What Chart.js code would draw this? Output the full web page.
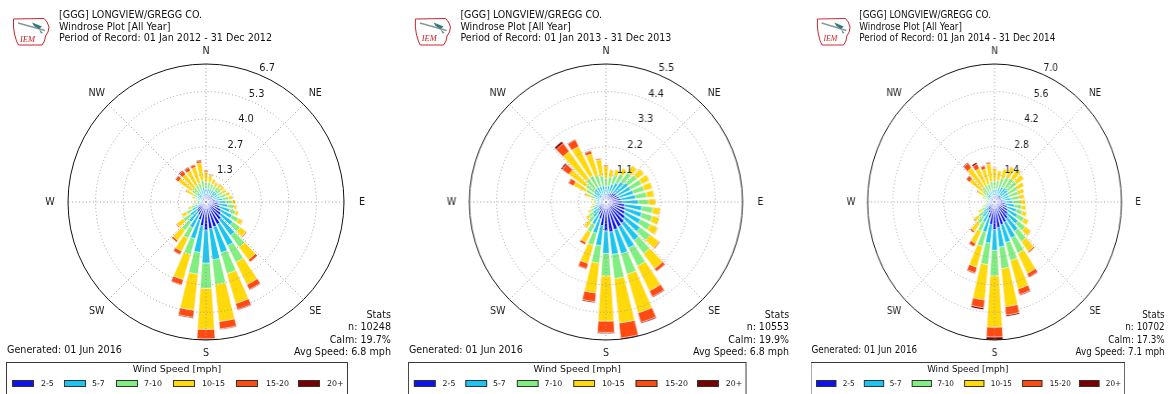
<!DOCTYPE html>
<html>
<head>
<meta charset="utf-8">
<script src="https://cdn.jsdelivr.net/npm/chart.js@4/dist/chart.umd.min.js"></script>
<style>
  html, body { margin: 0; padding: 0; background: #fff; }
  body { width: 1169px; height: 394px; overflow: hidden; position: relative;
         font-family: "DejaVu Sans", sans-serif; color: #111; }
  .panel { position: absolute; top: 0; width: 396px; height: 394px; transform-origin: 0 0; }
  .panel canvas { position: absolute; left: 0; top: 0; }
  .logo { position: absolute; left: 12px; top: 17px; }
  .hdr { position: absolute; left: 59px; top: 9.3px; font-size: 9.6px; line-height: 11.5px; white-space: nowrap; }
  .stats { position: absolute; right: 5px; top: 308.8px; font-size: 9.6px; line-height: 12.5px; text-align: right; white-space: nowrap; }
  .gen { position: absolute; left: 7px; top: 342.5px; font-size: 9.6px; line-height: 13px; white-space: nowrap; }
  .legend { position: absolute; left: 6px; top: 362px; width: 342px; height: 40px; border: 1px solid #3a3a3a; box-sizing: border-box; }
  .legend .ttl { position: absolute; left: 0; right: 0; top: 0; text-align: center; font-size: 9.5px; line-height: 12px; }
  .legend .sw { position: absolute; top: 17px; width: 22px; height: 7px; border: 0.6px solid #333; box-sizing: border-box; }
  .legend .lb { position: absolute; top: 15.5px; font-size: 7.9px; line-height: 10px; white-space: nowrap; }
</style>
</head>
<body>
<script>
// ---- speed bins & colours ----
const SPEED_BINS = ['2-5', '5-7', '7-10', '10-15', '15-20', '20+'];
const BIN_COLORS = ['#0c12f0', '#1cc4f2', '#80ee80', '#ffd90a', '#ff4a12', '#7a0000'];
const COMPASS = ['N', 'NE', 'E', 'SE', 'S', 'SW', 'W', 'NW'];
// 36 sectors of 10 degrees, starting at north, clockwise
const SECTORS = ['0°','10°','20°','30°','40°','50°','60°','70°','80°','90°','100°','110°',
                 '120°','130°','140°','150°','160°','170°','180°','190°','200°','210°','220°','230°',
                 '240°','250°','260°','270°','280°','290°','300°','310°','320°','330°','340°','350°'];

// ---- frequency (% of obs) per sector and speed bin ----
// 2012
const f2012_2_5   = [0.35,0.35,0.35,0.35,0.35,0.35,0.35,0.4,0.45,0.55,0.6,0.7,0.8,0.9,1.05,1.2,1.25,1.3,1.35,1.15,0.9,0.7,0.6,0.5,0.4,0.3,0.25,0.2,0.2,0.2,0.2,0.2,0.2,0.25,0.3,0.35];
const f2012_5_7   = [0.3,0.3,0.3,0.3,0.3,0.3,0.3,0.3,0.35,0.4,0.45,0.5,0.6,0.7,0.95,1.15,1.3,1.5,1.6,1.3,0.95,0.7,0.6,0.45,0.35,0.25,0.15,0.15,0.15,0.2,0.25,0.3,0.3,0.3,0.3,0.35];
const f2012_7_10  = [0.3,0.3,0.25,0.2,0.25,0.25,0.25,0.3,0.3,0.3,0.3,0.3,0.35,0.45,0.7,0.9,1.05,1.2,1.22,1.05,0.8,0.55,0.5,0.4,0.3,0.2,0.15,0.1,0.1,0.15,0.25,0.35,0.35,0.35,0.35,0.35];
const f2012_10_15 = [0.5,0.35,0.25,0.2,0.2,0.2,0.2,0.2,0.2,0.2,0.15,0.15,0.22,0.35,0.75,1.2,1.5,1.8,1.98,1.75,1.25,0.7,0.6,0.4,0.25,0.15,0.1,0.1,0.1,0.15,0.35,0.8,0.8,0.78,0.8,0.85];
const f2012_15_20 = [0.08,0.05,0,0,0,0,0,0,0,0,0,0,0.03,0.05,0.14,0.26,0.31,0.36,0.45,0.35,0.27,0.18,0.1,0.05,0,0,0,0,0,0,0.05,0.17,0.2,0.18,0.12,0.1];
const f2012_20p   = [0.02,0,0,0,0,0,0,0,0,0,0,0,0,0,0.01,0.04,0.04,0.04,0.06,0.05,0.03,0.02,0,0,0,0,0,0,0,0,0,0.03,0.05,0.04,0.03,0.05];
// 2013
const f2013_2_5   = [0.25,0.3,0.35,0.4,0.45,0.5,0.5,0.55,0.6,0.65,0.75,0.8,0.85,0.95,1.05,1.1,1.15,1.2,1.15,0.95,0.7,0.55,0.4,0.35,0.3,0.25,0.2,0.2,0.2,0.2,0.2,0.2,0.2,0.22,0.25,0.25];
const f2013_5_7   = [0.35,0.35,0.4,0.45,0.55,0.6,0.6,0.6,0.6,0.65,0.7,0.7,0.7,0.75,0.85,0.95,1.0,0.9,0.9,0.8,0.6,0.45,0.35,0.3,0.25,0.2,0.17,0.15,0.18,0.25,0.35,0.4,0.45,0.45,0.4,0.4];
const f2013_7_10  = [0.35,0.35,0.35,0.4,0.45,0.45,0.5,0.45,0.45,0.4,0.45,0.45,0.45,0.5,0.65,0.8,0.85,0.97,0.9,0.7,0.5,0.35,0.25,0.2,0.15,0.12,0.1,0.1,0.12,0.2,0.35,0.4,0.5,0.5,0.45,0.4];
const f2013_10_15 = [0.47,0.3,0.25,0.25,0.35,0.35,0.35,0.35,0.3,0.3,0.3,0.3,0.33,0.45,0.75,1.1,1.6,1.78,1.8,1.2,0.75,0.45,0.27,0.15,0.1,0.08,0.08,0.05,0.1,0.2,0.55,0.85,1.35,1.3,0.9,0.65];
const f2013_15_20 = [0.05,0,0,0,0,0,0,0,0,0,0,0,0.02,0.05,0.13,0.26,0.4,0.6,0.45,0.35,0.22,0.1,0.03,0,0,0,0,0,0,0.05,0.22,0.33,0.4,0.3,0.12,0.05];
const f2013_20p   = [0,0,0,0,0,0,0,0,0,0,0,0,0,0,0.02,0.04,0.05,0.05,0.05,0.05,0.03,0,0,0,0,0,0,0,0,0,0.03,0.07,0.1,0.03,0.03,0];
// 2014
const f2014_2_5   = [0.3,0.3,0.35,0.4,0.4,0.4,0.4,0.4,0.45,0.5,0.6,0.7,0.8,0.9,1.05,1.15,1.2,1.3,1.4,1.15,0.85,0.6,0.5,0.4,0.3,0.25,0.2,0.2,0.2,0.2,0.2,0.2,0.2,0.25,0.25,0.3];
const f2014_5_7   = [0.35,0.35,0.4,0.45,0.5,0.5,0.45,0.45,0.45,0.5,0.5,0.55,0.6,0.7,0.8,0.9,0.95,1.0,1.05,0.95,0.75,0.55,0.45,0.35,0.25,0.2,0.15,0.12,0.15,0.2,0.25,0.3,0.3,0.3,0.3,0.35];
const f2014_7_10  = [0.4,0.45,0.5,0.55,0.6,0.6,0.55,0.5,0.45,0.4,0.4,0.35,0.42,0.5,0.65,0.85,0.95,1.1,1.3,1.1,0.75,0.5,0.4,0.35,0.25,0.15,0.1,0.08,0.1,0.15,0.25,0.35,0.45,0.4,0.4,0.4];
const f2014_10_15 = [0.65,0.5,0.5,0.58,0.58,0.5,0.4,0.35,0.3,0.3,0.25,0.25,0.28,0.37,0.62,1.15,1.5,1.95,2.6,1.8,1.1,0.7,0.5,0.3,0.2,0.1,0.05,0.05,0.05,0.15,0.35,0.85,1.2,0.95,0.8,0.9];
const f2014_15_20 = [0.05,0,0,0.02,0.02,0,0,0,0,0,0,0,0,0.03,0.08,0.22,0.3,0.42,0.5,0.4,0.3,0.18,0.1,0.05,0,0,0,0,0,0,0.05,0.22,0.3,0.25,0.17,0.07];
const f2014_20p   = [0,0,0,0,0,0,0,0,0,0,0,0,0,0,0,0.03,0.05,0.08,0.15,0.1,0.05,0.02,0,0,0,0,0,0,0,0,0,0.03,0.05,0.1,0.03,0.03];

// ---- header / stats text ----
const STATION = '[GGG] LONGVIEW/GREGG CO.';
const PLOT_TITLE = 'Windrose Plot [All Year]';
const PERIODS = ['Period of Record: 01 Jan 2012 - 31 Dec 2012',
                 'Period of Record: 01 Jan 2013 - 31 Dec 2013',
                 'Period of Record: 01 Jan 2014 - 31 Dec 2014'];
const OBS_COUNT = [10248, 10553, 10702];
const CALM_PCT = [19.7, 19.9, 17.3];
const AVG_SPEED = [6.8, 6.8, 7.1];
const GENERATED = 'Generated: 01 Jun 2016';

const YEAR_BINS = [
  [f2012_2_5, f2012_5_7, f2012_7_10, f2012_10_15, f2012_15_20, f2012_20p],
  [f2013_2_5, f2013_5_7, f2013_7_10, f2013_10_15, f2013_15_20, f2013_20p],
  [f2014_2_5, f2014_5_7, f2014_7_10, f2014_10_15, f2014_15_20, f2014_20p]
];

// ---- layout ----
const PANEL_LEFT = [0, 402, 804.5];
const PANEL_SCALE_X = [1, 0.99, 0.92];
const BAR_DEG = 7.6;   // angular width of a sector bar
const GAP_DEG = 2.4;   // white gap between neighbouring sectors
const SW_LEFT = [5, 57, 109, 166, 229, 291];
const LB_LEFT = [34, 85, 137, 195, 259, 320];

const LOGO_SVG =
  '<svg class="logo" width="38" height="30" viewBox="0 0 38 30">' +
  '<path d="M1.5 2 L32 1.5 L35 5 L37 10 L36 15 L33.5 19 L32.5 24 L30 28 L6.5 28 L4.5 24 L2.5 17 L1.5 10 Z" fill="none" stroke="#c8242c" stroke-width="1"/>' +
  '<path d="M6 6 L33 13.5" stroke="#8a9696" stroke-width="1.3"/>' +
  '<path d="M20 5.5 L30 9.5 L27 12 L22 9 Z" fill="#2e7d7a"/>' +
  '<path d="M27 12 L31 16 L29 16.5 Z" fill="#5a8a6a"/>' +
  '<text x="8" y="24.5" font-family="Liberation Serif, serif" font-style="italic" font-size="8.5" fill="#c8242c">IEM</text>' +
  '</svg>';

// Compass grid lines, direction names and radius labels
const compassPlugin = {
  id: 'compass',
  afterDatasetsDraw(chart) {
    const s = chart.scales.r;
    const ctx = chart.ctx;
    const cx = s.xCenter, cy = s.yCenter, R = s.drawingArea;
    ctx.save();
    ctx.strokeStyle = '#9a9a9a';
    ctx.lineWidth = 1;
    ctx.setLineDash([1, 2.5]);
    for (let k = 0; k < 8; k++) {
      const a = k * Math.PI / 4;
      ctx.beginPath();
      ctx.moveTo(cx, cy);
      ctx.lineTo(cx + R * Math.sin(a), cy - R * Math.cos(a));
      ctx.stroke();
    }
    ctx.restore();
  },
  afterDraw(chart) {
    const s = chart.scales.r;
    const ctx = chart.ctx;
    const cx = s.xCenter, cy = s.yCenter, R = s.drawingArea;
    ctx.save();
    ctx.fillStyle = '#1a1a1a';
    ctx.font = '9.6px "DejaVu Sans"';
    ctx.textAlign = 'center';
    ctx.textBaseline = 'middle';
    COMPASS.forEach((name, k) => {
      const a = k * Math.PI / 4;
      const d = R + 13 + 5 * Math.abs(Math.sin(a));
      ctx.fillText(name, cx + d * Math.sin(a), cy - d * Math.cos(a) + 0.5);
    });
    // radius labels along 22.5 degrees
    const ang = 22.5 * Math.PI / 180;
    ctx.font = '9.9px "DejaVu Sans"';
    ctx.textAlign = 'left';
    s.ticks.forEach((t, i) => {
      if (i === 0) return;
      const d = s.getDistanceFromCenterForValue(t.value);
      ctx.fillText(t.value.toFixed(1), cx + d * Math.sin(ang) + 0.5, cy - d * Math.cos(ang) - 6);
    });
    ctx.restore();
  }
};

function buildDatasets(bins) {
  let run = new Array(SECTORS.length).fill(0);
  const cumulative = bins.map(b => { run = run.map((v, i) => v + b[i]); return run; });
  // overlaid cumulative rings: first dataset is drawn last, on top
  return cumulative.map((c, k) => ({
    label: SPEED_BINS[k],
    data: c.flatMap(v => [v, 0]),
    backgroundColor: ctx => ctx.dataIndex % 2 ? 'rgba(0,0,0,0)' : BIN_COLORS[k],
    borderColor: '#ffffff',
    borderWidth: ctx => ctx.dataIndex % 2 ? 0 : 0.7,
    angle: ctx => ctx.dataIndex % 2 ? GAP_DEG : BAR_DEG
  }));
}

YEAR_BINS.forEach((bins, p) => {
  const panel = document.createElement('div');
  panel.className = 'panel';
  panel.style.left = PANEL_LEFT[p] + 'px';
  panel.style.transform = 'scaleX(' + PANEL_SCALE_X[p] + ')';

  const canvas = document.createElement('canvas');
  canvas.width = 396; canvas.height = 394;
  canvas.style.width = '396px'; canvas.style.height = '394px';
  panel.appendChild(canvas);

  panel.insertAdjacentHTML('beforeend',
    LOGO_SVG +
    '<div class="hdr">' + STATION + '<br>' + PLOT_TITLE + '<br>' + PERIODS[p] + '</div>' +
    '<div class="stats">Stats<br>n: ' + OBS_COUNT[p] + '<br>Calm: ' + CALM_PCT[p].toFixed(1) +
    '%<br>Avg Speed: ' + AVG_SPEED[p].toFixed(1) + ' mph</div>' +
    '<div class="gen">' + GENERATED + '</div>');

  const legend = document.createElement('div');
  legend.className = 'legend';
  let lh = '<div class="ttl">Wind Speed [mph]</div>';
  SPEED_BINS.forEach((b, k) => {
    lh += '<div class="sw" style="left:' + SW_LEFT[k] + 'px;background:' + BIN_COLORS[k] + '"></div>' +
          '<div class="lb" style="left:' + LB_LEFT[k] + 'px">' + b + '</div>';
  });
  legend.innerHTML = lh;
  panel.appendChild(legend);
  document.body.appendChild(panel);

  const datasets = buildDatasets(bins);
  const totals = datasets[datasets.length - 1].data;
  const rMax = Math.max(...totals);
  const labels = SECTORS.flatMap(d => [d, '']);

  new Chart(canvas, {
    type: 'polarArea',
    data: { labels, datasets },
    plugins: [compassPlugin],
    options: {
      responsive: false,
      animation: false,
      events: [],
      layout: { padding: { left: 68, right: 52, top: 64, bottom: 54 } },
      plugins: { legend: { display: false }, tooltip: { enabled: false }, title: { display: false } },
      scales: {
        r: {
          min: 0,
          max: rMax,
          startAngle: 360 - BAR_DEG / 2,
          ticks: { display: false, count: 6 },
          grid: {
            z: 1,
            circular: true,
            lineWidth: 1,
            color: ctx => ctx.index === 5 ? '#111111' : '#a0a0a0'
          },
          border: { dash: ctx => ctx.index === 5 ? [] : [1, 2.5] },
          angleLines: { display: false },
          pointLabels: { display: false }
        }
      }
    }
  });
});
</script>
</body>
</html>
